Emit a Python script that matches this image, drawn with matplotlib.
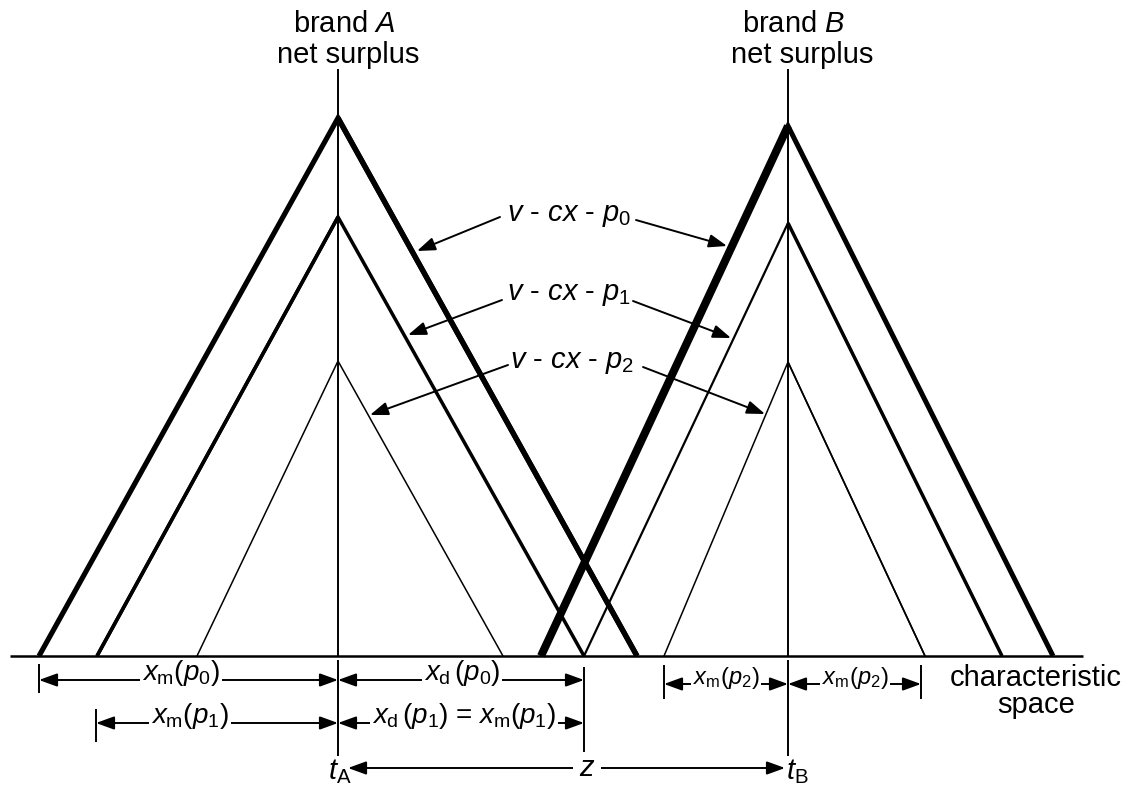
import matplotlib
matplotlib.use("Agg")
import matplotlib.pyplot as plt
from matplotlib.patches import FancyArrowPatch

plt.rcParams['font.family'] = ['Liberation Sans', 'DejaVu Sans']
plt.rcParams['mathtext.fontset'] = 'custom'
plt.rcParams['mathtext.rm'] = 'Liberation Sans'
plt.rcParams['mathtext.it'] = 'Liberation Sans:italic'
plt.rcParams['mathtext.bf'] = 'Liberation Sans:bold'

# geometrie du schema (coordonnees en pixels de l'image)
baseline_y = 656
axis_x = [10, 1083]
peak_x = [338, 788]          # t_A, t_B
z_x = 584

# triangles de surplus net pour p0, p1, p2
peak_y_a = [118, 217, 361]
foot_left_a = [39, 97, 197]
foot_right_a = [637, 584, 503]
peak_y_b = [126, 223, 362]
foot_left_b = [541, 584, 664]
foot_right_b = [1053, 1002, 925]

# epaisseurs (gauche, droite)
lw_a = [(3.7, 3.9), (2.6, 2.5), (1.1, 1.1)]
lw_b = [(5.8, 3.6), (1.6, 2.5), (1.1, 1.2)]

# etiquettes v - cx - p
price_names = ['p_0', 'p_1', 'p_2']
label_x = [507, 507, 510]
label_y = [221, 300, 368]
left_start = [(500, 217), (502, 300), (508, 365)]
left_tip = [(417, 251), (408, 335), (370, 415)]
right_start = [(636, 220), (633, 301), (643, 367)]
right_tip = [(727, 246), (731, 338), (765, 414)]

# cotes sous l'axe
dims = [
    # x0, x1, y, label, label centre, fontsize
    (39, 338, 680, r'$x_\mathrm{m}(p_0)$', 181, 20),
    (338, 584, 680, r'$x_\mathrm{d}\,(p_0)$', 462, 20),
    (96, 338, 723, r'$x_\mathrm{m}(p_1)$', 190, 20),
    (338, 584, 723, r'$x_\mathrm{d}\,(p_1)$ = $x_\mathrm{m}(p_1)$', 464, 20),
    (664, 788, 684, r'$x_\mathrm{m}(p_2)$', 726, 17),
    (788, 921, 684, r'$x_\mathrm{m}(p_2)$', 855, 17),
]
ticks = [(39, 664, 693), (96, 709, 742), (z_x, 667, 752), (664, 665, 699), (921, 665, 699)]
z_row_y = 768

fig = plt.figure(figsize=(11.33, 7.86), dpi=100)
ax = fig.add_axes([0, 0, 1, 1])
ax.set_xlim(0, 1133)
ax.set_ylim(786, 0)
ax.axis('off')


def arrow(p0, p1, style='<|-|>'):
    ax.add_patch(FancyArrowPatch(p0, p1, arrowstyle=style + ',head_length=11,head_width=4',
                                 mutation_scale=1, lw=1.4, color='black',
                                 shrinkA=0, shrinkB=0, zorder=3))


# axe horizontal et axes verticaux
ax.plot(axis_x, [baseline_y, baseline_y], color='black', lw=1.8, solid_capstyle='butt', zorder=5)
for px in peak_x:
    ax.plot([px, px], [69, baseline_y], color='black', lw=1.4, solid_capstyle='butt', zorder=5)
    ax.plot([px, px], [660, 756], color='black', lw=1.4, solid_capstyle='butt', zorder=5)

# triangles
for peak, pys, fl, fr, lws in [(peak_x[0], peak_y_a, foot_left_a, foot_right_a, lw_a),
                               (peak_x[1], peak_y_b, foot_left_b, foot_right_b, lw_b)]:
    for py, l, r, (wl, wr) in zip(pys, fl, fr, lws):
        ax.plot([l, peak, r], [baseline_y, py, baseline_y], color='black',
                lw=min(wl, wr), solid_joinstyle='miter', solid_capstyle='butt')
        if wl > wr:
            ax.plot([l, peak], [baseline_y, py], color='black', lw=wl, solid_capstyle='butt')
        elif wr > wl:
            ax.plot([peak, r], [py, baseline_y], color='black', lw=wr, solid_capstyle='butt')

# etiquettes des droites
for name, lx, ly, ls, lt, rs, rt in zip(price_names, label_x, label_y,
                                       left_start, left_tip, right_start, right_tip):
    ax.text(lx, ly, '$v$ - $cx$ - $' + name + '$', fontsize=21, ha='left', va='baseline')
    arrow(ls, lt, '-|>')
    arrow(rs, rt, '-|>')

# titres des axes verticaux
ax.text(344, 32, 'brand $A$', fontsize=21, ha='center', va='baseline')
ax.text(348, 63, 'net surplus', fontsize=21, ha='center', va='baseline')
ax.text(794, 32, 'brand $B$', fontsize=21, ha='center', va='baseline')
ax.text(802, 63, 'net surplus', fontsize=21, ha='center', va='baseline')

ax.text(1036, 686, 'characteristic', fontsize=21, ha='center', va='baseline')
ax.text(1036, 713, 'space', fontsize=21, ha='center', va='baseline')

# cotes
for x, y0, y1 in ticks:
    ax.plot([x, x], [y0, y1], color='black', lw=1.4, solid_capstyle='butt', zorder=5)
for x0, x1, y, lab, cx, fs in dims:
    arrow((x0, y), (x1, y))
    ax.text(cx, y, lab, fontsize=fs, ha='center', va='baseline', zorder=4,
            bbox=dict(facecolor='white', edgecolor='none', pad=1.5))

# distance z entre t_A et t_B
arrow((348, z_row_y), (785, z_row_y))
ax.text(587, z_row_y + 8, '$z$', fontsize=21, ha='center', va='baseline', zorder=4,
        bbox=dict(facecolor='white', edgecolor='none', pad=4))
ax.text(328, z_row_y + 11, r'$t_\mathrm{A}$', fontsize=21, ha='left', va='baseline')
ax.text(786, z_row_y + 11, r'$t_\mathrm{B}$', fontsize=21, ha='left', va='baseline')

fig.savefig('out.png', dpi=100)
